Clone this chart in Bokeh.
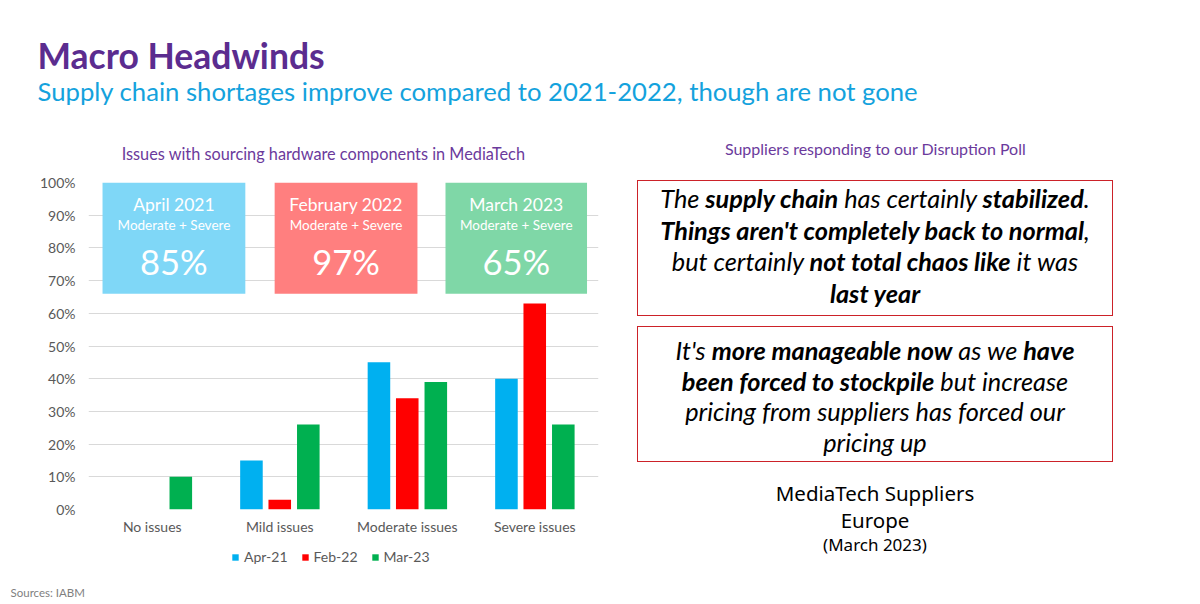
from bokeh.plotting import figure
from bokeh.models import (FactorRange, Range1d, Label, Legend, LegendItem, ColumnDataSource,
                          NumeralTickFormatter, FixedTicker, Div)
from bokeh.layouts import column, row
from bokeh.transform import dodge
from bokeh.embed import file_html
from bokeh.resources import INLINE
from bokeh.core.properties import value

# ---------------- data ----------------
categories = ["No issues", "Mild issues", "Moderate issues", "Severe issues"]
series_names = ["Apr-21", "Feb-22", "Mar-23"]
apr21 = [0.00, 0.15, 0.45, 0.40]
feb22 = [0.00, 0.03, 0.34, 0.63]
mar23 = [0.10, 0.26, 0.39, 0.26]
y_ticks = [0.0, 0.1, 0.2, 0.3, 0.4, 0.5, 0.6, 0.7, 0.8, 0.9, 1.0]
box_titles = ["April 2021", "February 2022", "March 2023"]
box_subtitle = "Moderate + Severe"

title_text = "Macro Headwinds"
subtitle_text = "Supply chain shortages improve compared to 2021-2022, though are not gone"
chart_title = "Issues with sourcing hardware components in MediaTech"
poll_title = "Suppliers responding to our Disruption Poll"
quote1 = ["The <b>supply chain</b> has certainly <b>stabilized</b>.",
          "<b>Things aren't completely back to normal</b>,",
          "but certainly <b>not total chaos like</b> it was",
          "<b>last year</b>"]
quote2 = ["It's <b>more manageable now</b> as we <b>have</b>",
          "<b>been forced to stockpile</b> but increase",
          "pricing from suppliers has forced our",
          "pricing up"]
footer_lines = ["MediaTech Suppliers", "Europe", "(March 2023)"]
source_text = "Sources: IABM"

# ---------------- style ----------------
C_APR, C_FEB, C_MAR = "#00B0F0", "#FF0000", "#00B050"
SERIES_COLORS = [C_APR, C_FEB, C_MAR]
SERIES_COLS = ["apr", "feb", "mar"]
SERIES_OFFSETS = [-0.222, 0.0, 0.224]
BOX_FILL = ["#7FD7F7", "#FF7F7F", "#7FD7A7"]
PURPLE = "#5B2C8F"
PURPLE2 = "#6B3A9C"
BLUE = "#14A2DD"
GREY = "#595959"
FONT = "Lato"


def blank(w, h):
    f = figure(width=w, height=h, x_range=Range1d(0, w), y_range=Range1d(h, 0),
               x_axis_type=None, y_axis_type=None, output_backend="svg",
               toolbar_location=None, min_border=0, title=None)
    f.grid.visible = False
    f.outline_line_color = None
    return f


# ---------------- header (page y 0..170) ----------------
header = blank(1200, 170)
header.add_layout(Label(x=37, y=55, text=title_text, text_font=FONT, text_font_style="bold",
                        text_font_size="35.5px", text_color=PURPLE, text_baseline="middle"))
header.add_layout(Label(x=37, y=90, text=subtitle_text, text_font=FONT,
                        text_font_size="25.7px", text_color=BLUE, text_baseline="middle"))
header.add_layout(Label(x=323, y=153, text=chart_title, text_font=FONT,
                        text_font_size="16.3px", text_color=PURPLE2, text_align="center",
                        text_baseline="middle"))
header.add_layout(Label(x=875, y=148, text=poll_title, text_font=FONT,
                        text_font_size="16px", text_color=PURPLE2, text_align="center",
                        text_baseline="middle"))

# ---------------- chart (page y 170..540) ----------------
p = figure(width=620, height=370, x_range=FactorRange(*categories), y_range=Range1d(0, 1),
           output_backend="svg", toolbar_location=None,
           min_border_left=88, min_border_right=22, min_border_top=12, min_border_bottom=31)
p.title.visible = False
p.outline_line_color = None
p.xgrid.visible = False
p.ygrid.ticker = FixedTicker(ticks=y_ticks)
p.ygrid.grid_line_color = "#D9D9D9"
p.yaxis.ticker = FixedTicker(ticks=y_ticks)
p.yaxis.formatter = NumeralTickFormatter(format="0%")
for ax in (p.xaxis[0], p.yaxis[0]):
    ax.axis_line_color = None
    ax.major_tick_line_color = None
    ax.minor_tick_line_color = None
    ax.major_tick_out = 0
    ax.major_tick_in = 0
    ax.major_label_text_font = FONT
    ax.major_label_text_color = GREY
    ax.major_label_text_font_size = "14px"
p.yaxis.major_label_standoff = 13
p.xaxis.major_label_standoff = 8

# highlight boxes (annotation layout, synthetic category coordinates)
BOX_LEFT = [0.11, 1.46, 2.80]
BOX_RIGHT = [1.23, 2.58, 3.91]
BOX_BOTTOM, BOX_TOP = 0.66, 1.0
p.quad(left=BOX_LEFT, right=BOX_RIGHT, bottom=BOX_BOTTOM, top=BOX_TOP,
       fill_color=BOX_FILL, line_color=None)
centers = [(l + r) / 2 for l, r in zip(BOX_LEFT, BOX_RIGHT)]
totals = ["%d%%" % round((s[2] + s[3]) * 100) for s in (apr21, feb22, mar23)]
p.text(x=centers, y=[0.933] * 3, text=box_titles, text_font=value(FONT),
       text_font_size=value("17.5px"), text_color="white", text_align="center",
       text_baseline="middle")
p.text(x=centers, y=[0.869] * 3, text=[box_subtitle] * 3, text_font=value(FONT),
       text_font_size=value("13.5px"), text_color="white", text_align="center",
       text_baseline="middle")
p.text(x=centers, y=[0.758] * 3, text=totals, text_font=value(FONT),
       text_font_size=value("34.5px"), text_color="white", text_align="center",
       text_baseline="middle")

src = ColumnDataSource(dict(cat=categories, apr=apr21, feb=feb22, mar=mar23))
bw = 0.177
for col, off, colr in zip(SERIES_COLS, SERIES_OFFSETS, SERIES_COLORS):
    p.vbar(x=dodge("cat", off, range=p.x_range), top=col, width=bw, source=src,
           fill_color=colr, line_color=None)

# ---------------- legend strip (page y 540..580) ----------------
# same series drawn against a range that keeps them out of view: only the key shows
lf = figure(width=620, height=40, x_range=p.x_range, y_range=Range1d(2, 3),
            x_axis_type=None, y_axis_type=None, output_backend="svg",
            toolbar_location=None, min_border=0, title=None)
lf.grid.visible = False
lf.outline_line_color = None
key_renderers = [lf.vbar(x=dodge("cat", off, range=lf.x_range), top=col, width=bw, source=src,
                         fill_color=colr, line_color=None)
                 for col, off, colr in zip(SERIES_COLS, SERIES_OFFSETS, SERIES_COLORS)]
legend = Legend(items=[LegendItem(label=n, renderers=[r], index=2)
                       for n, r in zip(series_names, key_renderers)],
                orientation="horizontal", location=(143, 15),
                border_line_color=None, background_fill_alpha=0, padding=0, margin=0,
                spacing=13, label_standoff=5, glyph_width=8, glyph_height=8,
                label_height=16, label_text_font=FONT, label_text_font_size="14px",
                label_text_color=GREY)
lf.add_layout(legend)

# ---------------- right panel (page x 620..1200, y 170..580) ----------------
def box_html(lines, top, pad, lh):
    inner = "<br>".join(lines)
    return (f'<div style="position:absolute;left:17px;top:{top}px;width:476px;height:136px;'
            f'box-sizing:border-box;border:1.5px solid #CC2229;padding-top:{pad}px;'
            f'text-align:center;font-family:{FONT};font-style:italic;font-size:25.3px;'
            f'line-height:{lh}px;color:#000;white-space:nowrap;">{inner}</div>')


def center_line(text, top, size, lh):
    return (f'<div style="position:absolute;left:0;top:{top}px;width:510px;text-align:center;'
            f'font-family:\'Noto Sans\';font-size:{size}px;line-height:{lh}px;color:#000;">{text}</div>')


html = (
    f'<div style="position:relative;width:580px;height:410px;font-family:{FONT};">'
    + box_html(quote1, 10, 2, 31.5)
    + box_html(quote2, 156, 8, 30.5)
    + center_line(footer_lines[0], 311, 20.5, 24)
    + center_line(footer_lines[1], 338, 20.5, 24)
    + center_line(footer_lines[2], 365, 17, 20)
    + '</div>'
)
right = Div(text=html, width=580, height=410, margin=0)

# ---------------- footer (page y 580..604) ----------------
footer = blank(1200, 24)
footer.add_layout(Label(x=10, y=12, text=source_text, text_font=FONT, text_font_size="11.5px",
                        text_color="#7F7F7F", text_align="left", text_baseline="middle"))

layout = column(header, row(column(p, lf, spacing=0), right, spacing=0), footer, spacing=0)
open("out.html", "w").write(file_html(layout, INLINE))
